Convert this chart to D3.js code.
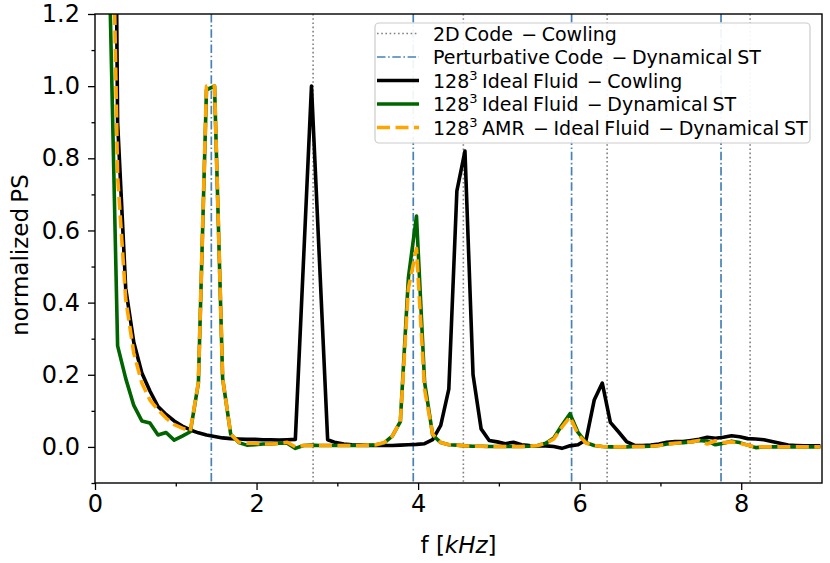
<!DOCTYPE html>
<html>
<head>
<meta charset="utf-8">
<script src="https://cdn.jsdelivr.net/npm/d3@7"></script>
<style>
  html, body { margin: 0; padding: 0; background: #fff; }
  svg { display: block; font-family: "DejaVu Sans", sans-serif; }
</style>
</head>
<body>
<svg id="chart" width="830" height="563"></svg>
<script>
// ---- data ----
const freqs = [
  0.08, 0.18, 0.28, 0.38, 0.48, 0.58, 0.68, 0.78, 0.88, 0.98,
  1.08, 1.18, 1.28, 1.38, 1.48, 1.58, 1.68, 1.78, 1.88, 1.98,
  2.08, 2.18, 2.28, 2.38, 2.48, 2.58, 2.68, 2.78, 2.88, 2.98,
  3.08, 3.18, 3.28, 3.38, 3.48, 3.58, 3.68, 3.78, 3.88, 3.98,
  4.08, 4.18, 4.28, 4.38, 4.48, 4.58, 4.68, 4.78, 4.88, 4.98,
  5.08, 5.18, 5.28, 5.38, 5.48, 5.58, 5.68, 5.78, 5.88, 5.98,
  6.08, 6.18, 6.28, 6.38, 6.48, 6.58, 6.68, 6.78, 6.88, 6.98,
  7.08, 7.18, 7.28, 7.38, 7.48, 7.58, 7.68, 7.78, 7.88, 7.98,
  8.08, 8.18, 8.28, 8.38, 8.48, 8.58, 8.68, 8.78, 8.88, 8.98
];

const idealCowling = [
  6.0, 3.5, 0.9, 0.44, 0.29, 0.205, 0.155, 0.112, 0.09, 0.072,
  0.058, 0.047, 0.039, 0.033, 0.029, 0.025, 0.023, 0.022, 0.021, 0.021,
  0.02, 0.02, 0.019, 0.02, 0.021, 0.51, 1.0, 0.51, 0.02, 0.012,
  0.008, 0.006, 0.005, 0.004, 0.004, 0.004, 0.004, 0.005, 0.006, 0.007,
  0.009, 0.02, 0.06, 0.16, 0.71, 0.82, 0.2, 0.05, 0.018, 0.014,
  0.009, 0.013, 0.006, 0.004, 0.003, 0.003, 0.001, -0.004, 0.003, 0.006,
  0.02, 0.13, 0.177, 0.068, 0.042, 0.015, 0.004, 0.004, 0.005, 0.008,
  0.013, 0.015, 0.015, 0.018, 0.021, 0.027, 0.024, 0.027, 0.031, 0.028,
  0.023, 0.022, 0.02, 0.015, 0.01, 0.005, 0.004, 0.003, 0.003, 0.003
];

const idealDynST = [
  5.0, 1.3, 0.28, 0.19, 0.115, 0.072, 0.066, 0.033, 0.04, 0.019,
  0.03, 0.042, 0.177, 0.99, 1.0, 0.19, 0.035, 0.012, 0.005, 0.006,
  0.008, 0.008, 0.01, 0.01, -0.004, 0.004, 0.005, 0.004, 0.004, 0.004,
  0.004, 0.004, 0.004, 0.005, 0.006, 0.011, 0.03, 0.07, 0.47, 0.64,
  0.18, 0.033, 0.012, 0.006, 0.005, 0.003, 0.002, 0.002, 0.001, 0.001,
  0.001, 0.001, 0.001, 0.002, 0.004, 0.01, 0.025, 0.06, 0.092, 0.04,
  0.012, 0.004, 0.001, 0.0, 0.0, 0.0, 0.001, 0.001, 0.002, 0.004,
  0.008, 0.01, 0.012, 0.014, 0.018, 0.016, 0.006, 0.01, 0.016, 0.012,
  0.005, -0.002, 0.0, 0.0, 0.0, 0.0, 0.0, 0.0, 0.0, 0.0
];

const amrDynST = [
  5.0, 2.0, 0.75, 0.41, 0.26, 0.177, 0.13, 0.103, 0.08, 0.062,
  0.052, 0.044, 0.18, 1.0, 1.0, 0.19, 0.035, 0.013, 0.01, 0.01,
  0.008, 0.008, 0.01, 0.013, 0.0, 0.004, 0.004, 0.004, 0.004, 0.004,
  0.004, 0.004, 0.004, 0.005, 0.006, 0.012, 0.03, 0.07, 0.44, 0.55,
  0.16, 0.035, 0.012, 0.006, 0.005, 0.003, 0.002, 0.002, 0.001, 0.001,
  0.001, 0.001, 0.001, 0.002, 0.004, 0.01, 0.022, 0.055, 0.083, 0.035,
  0.01, 0.004, 0.001, 0.0, 0.0, 0.0, 0.001, 0.001, 0.002, 0.004,
  0.008, 0.01, 0.012, 0.014, 0.018, 0.008, 0.017, 0.012, 0.014, 0.01,
  0.005, 0.0, 0.0, 0.0, 0.0, 0.0, 0.0, 0.0, 0.0, 0.0
];

const cowling2D = [2.70, 4.56, 6.34, 8.11];
const perturbativeST = [1.44, 3.94, 5.90, 7.75];

const xTicks = [0, 2, 4, 6, 8];
const xMinorTicks = [1, 3, 5, 7];
const yTicks = [0.0, 0.2, 0.4, 0.6, 0.8, 1.0, 1.2];
const yMinorTicks = [-0.1, 0.1, 0.3, 0.5, 0.7, 0.9, 1.1];

const legendLabels = [
  ["2D Code", " Cowling"],
  ["Perturbative Code", " Dynamical ST"],
  ["128", "3", " Ideal Fluid", " Cowling"],
  ["128", "3", " Ideal Fluid", " Dynamical ST"],
  ["128", "3", " AMR", " Ideal Fluid", " Dynamical ST"]
];

// ---- layout ----
const W = 830, H = 563;
const M = { left: 95, right: 8, top: 14, bottom: 80 };
const svg = d3.select("#chart");

const x = d3.scaleLinear().domain([0, 9]).range([M.left, W - M.right]);
const y = d3.scaleLinear().domain([-0.1, 1.2]).range([H - M.bottom, M.top]);

svg.append("defs").append("clipPath").attr("id", "plotclip")
  .append("rect")
  .attr("x", M.left).attr("y", M.top)
  .attr("width", W - M.left - M.right).attr("height", H - M.top - M.bottom);

const plot = svg.append("g").attr("clip-path", "url(#plotclip)");

// styles
const styles = {
  cow2d: { stroke: "#808080", width: 1.6, dash: "1.6,2.6" },
  pert: { stroke: "#4682b4", width: 1.7, dash: "8.5,2.6,1.6,2.6" },
  black: { stroke: "#000000", width: 3.6, dash: null },
  green: { stroke: "#006400", width: 3.6, dash: null },
  orange: { stroke: "#ffa500", width: 3.6, dash: "13,5.5" }
};

// vertical reference lines
function vlines(vals, st) {
  plot.selectAll(null).data(vals).enter().append("line")
    .attr("x1", d => x(d)).attr("x2", d => x(d))
    .attr("y1", M.top).attr("y2", H - M.bottom)
    .attr("stroke", st.stroke).attr("stroke-width", st.width)
    .attr("stroke-dasharray", st.dash);
}
vlines(cowling2D, styles.cow2d);
vlines(perturbativeST, styles.pert);

// series
const line = d3.line().x(d => x(d[0])).y(d => y(d[1]));
function series(vals, st) {
  plot.append("path")
    .datum(freqs.map((f, i) => [f, vals[i]]))
    .attr("d", line)
    .attr("fill", "none")
    .attr("stroke", st.stroke)
    .attr("stroke-width", st.width)
    .attr("stroke-linejoin", "round")
    .attr("stroke-dasharray", st.dash);
}
series(idealCowling, styles.black);
series(idealDynST, styles.green);
series(amrDynST, styles.orange);

// axes
const tickFont = 24;
svg.append("g").attr("transform", `translate(0,${H - M.bottom})`)
  .call(d3.axisBottom(x).tickValues(xTicks).tickFormat(d3.format("d")).tickSize(7).tickPadding(5));
svg.append("g").attr("transform", `translate(0,${H - M.bottom})`)
  .call(d3.axisBottom(x).tickValues(xMinorTicks).tickFormat("").tickSize(3.5))
  .select(".domain").remove();
svg.append("g").attr("transform", `translate(${M.left},0)`)
  .call(d3.axisLeft(y).tickValues(yTicks).tickFormat(d3.format(".1f")).tickSize(7).tickPadding(8));
svg.append("g").attr("transform", `translate(${M.left},0)`)
  .call(d3.axisLeft(y).tickValues(yMinorTicks).tickFormat("").tickSize(3.5))
  .select(".domain").remove();

svg.selectAll(".tick line").attr("stroke", "#000").attr("stroke-width", 1.3);
svg.selectAll(".tick text").attr("font-size", tickFont).attr("font-family", "DejaVu Sans").attr("fill", "#000");
svg.selectAll(".domain").remove();

// frame (spines)
svg.append("rect")
  .attr("x", M.left).attr("y", M.top)
  .attr("width", W - M.left - M.right).attr("height", H - M.top - M.bottom)
  .attr("fill", "none").attr("stroke", "#000").attr("stroke-width", 1.4);

// axis labels
svg.append("text")
  .attr("transform", `translate(28,255) rotate(-90)`)
  .attr("text-anchor", "middle")
  .attr("font-size", 23)
  .attr("word-spacing", -2)
  .text("normalized PS");

const xl = svg.append("text")
  .attr("x", (M.left + W - M.right) / 2).attr("y", 553)
  .attr("text-anchor", "middle").attr("font-size", 23);
xl.append("tspan").text("f [");
xl.append("tspan").attr("font-style", "italic").text("kHz");
xl.append("tspan").text("]");

// legend
const lg = svg.append("g");
lg.append("rect")
  .attr("x", 375).attr("y", 23).attr("width", 435).attr("height", 120)
  .attr("rx", 4).attr("fill", "#fff").attr("fill-opacity", 0.92)
  .attr("stroke", "#cccccc").attr("stroke-width", 1.2);
const legendStyles = [styles.cow2d, styles.pert, styles.black, styles.green, styles.orange];
const rowY = [33.5, 57, 80.5, 104, 127.5];
const legFont = 19;
legendLabels.forEach((parts, i) => {
  const st = legendStyles[i];
  const ly = rowY[i];
  lg.append("line")
    .attr("x1", 377).attr("x2", 419).attr("y1", ly).attr("y2", ly)
    .attr("stroke", st.stroke).attr("stroke-width", st.width)
    .attr("stroke-dasharray", st.dash);
  const t = lg.append("text")
    .attr("x", 433).attr("y", ly + 7)
    .attr("font-size", legFont)
    .attr("word-spacing", -1.5)
    .attr("xml:space", "preserve");
  let k = 0;
  if (parts[1] === "3") {
    t.append("tspan").text(parts[0]);
    t.append("tspan").attr("dy", -8).attr("font-size", 13).text(parts[1]);
    t.append("tspan").attr("dy", 8).text(parts[2]);
    k = 3;
  } else {
    t.append("tspan").text(parts[0]);
    k = 1;
  }
  for (; k < parts.length; k++) {
    t.append("tspan").text("\u2009 \u2212" + parts[k]);
  }
});
</script>
</body>
</html>
